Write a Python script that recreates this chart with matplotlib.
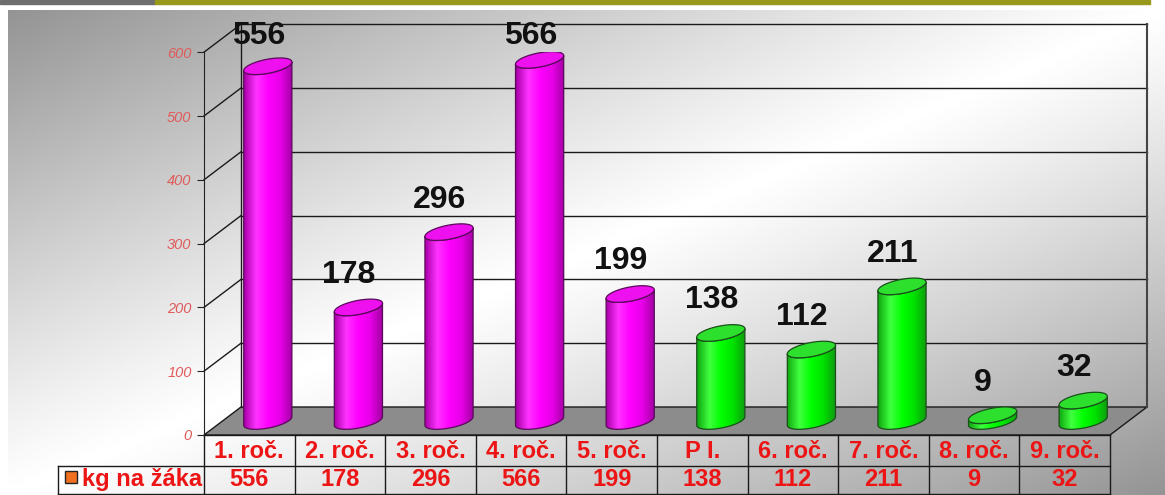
import numpy as np
import matplotlib.pyplot as plt
from matplotlib.colors import LinearSegmentedColormap
from matplotlib.patches import Polygon, Rectangle

categories = ['1. roč.', '2. roč.', '3. roč.', '4. roč.', '5. roč.',
              'P I.', '6. roč.', '7. roč.', '8. roč.', '9. roč.']
values = [556, 178, 296, 566, 199, 138, 112, 211, 9, 32]
groups = ['m', 'm', 'm', 'm', 'm', 'g', 'g', 'g', 'g', 'g']
series_name = 'kg na žáka'
yticks = [0, 100, 200, 300, 400, 500, 600]

plt.rcParams['font.family'] = ['Liberation Sans', 'DejaVu Sans']

W, H = 1165, 495
fig = plt.figure(figsize=(W / 100, H / 100), dpi=100)

# background with diagonal gradient
bg = fig.add_axes([0, 0, 1, 1])
bg.set_xlim(0, W)
bg.set_ylim(H, 0)
bg.axis('off')
xx, yy = np.meshgrid(np.linspace(0, 1, 400), np.linspace(0, 1, 200))
u = xx + yy
shade = 1 - 0.42 * np.abs(u - 1) ** 1.1
bg.imshow(shade, cmap='gray', vmin=0, vmax=1, extent=[8, W, H, 10], aspect='auto')
bg.add_patch(Rectangle((0, 0), 155, 4, color='#6e6e6e'))
bg.add_patch(Rectangle((155, 0), 995, 4, color='#98981a'))

# main axes = front plane of the 3d box
px_x = 90.6    # pixels per category
px_y = 0.638   # pixels per value unit
L, B = 204, 435
ax = fig.add_axes([L / W, (H - B) / H, 10 * px_x / W, 600 * px_y / H])
ax.set_xlim(-0.5, 9.5)
ax.set_ylim(0, 600)
ax.patch.set_alpha(0)
for s in ['top', 'right', 'bottom']:
    ax.spines[s].set_visible(False)
ax.spines['left'].set_color('#222222')
ax.set_xticks([])
ax.set_yticks(yticks)
ax.tick_params(axis='y', length=5, color='#222222', labelcolor='#e05a5a',
               labelsize=10.5, pad=4)
for t in ax.get_yticklabels():
    t.set_fontstyle('italic')

ddx = 37 / px_x
ddy = 28 / px_y
x0, x1 = -0.5, 9.5
lc = '#1a1a1a'

# floor
ax.add_patch(Polygon([(x0, 0), (x1, 0), (x1 + ddx, ddy), (x0 + ddx, ddy)],
                     closed=True, facecolor='#8c8c8c', edgecolor=lc, lw=1,
                     clip_on=False, zorder=1))
# gridlines: side wall and back wall
for v in yticks[1:]:
    ax.plot([x0, x0 + ddx], [v, v + ddy], color=lc, lw=1, clip_on=False, zorder=1)
    ax.plot([x0 + ddx, x1 + ddx], [v + ddy, v + ddy], color=lc, lw=1,
            clip_on=False, zorder=1)
ax.plot([x0 + ddx, x0 + ddx], [ddy, 600 + ddy], color=lc, lw=1, clip_on=False, zorder=1)
ax.plot([x1 + ddx, x1 + ddx], [ddy, 600 + ddy], color='#444444', lw=1.5,
        clip_on=False, zorder=1)

# cylinders
a, b, th = 24.5, 7.0, np.radians(11)
t0 = np.arctan2(-b * np.sin(th), a * np.cos(th))


def ell(cx, cy, t):
    ex = a * np.cos(t) * np.cos(th) - b * np.sin(t) * np.sin(th)
    ey = a * np.cos(t) * np.sin(th) + b * np.sin(t) * np.cos(th)
    return cx + ex / px_x, cy + ey / px_y


cmaps = {
    'm': LinearSegmentedColormap.from_list('m', ['#a800a8', '#ff33ff', '#ff00ff',
                                                  '#e600e6', '#a000a0']),
    'g': LinearSegmentedColormap.from_list('g', ['#10a810', '#40ff40', '#00ff00',
                                                  '#00e000', '#109a10']),
}
tops = {'m': '#ee10ee', 'g': '#2ee02e'}
edges = {'m': '#5a0a5a', 'g': '#1a501a'}

grad = np.linspace(0, 1, 100).reshape(1, -1)
for i, (v, g) in enumerate(zip(values, groups)):
    cx = i + ddx / 2
    yb = ddy / 2
    yt = v + ddy / 2
    tf = np.linspace(t0, t0 - np.pi, 60)
    bx, by = ell(cx, yb, tf)
    tx, ty = ell(cx, yt, tf[::-1])
    body = Polygon(np.column_stack([np.r_[bx, tx], np.r_[by, ty]]), closed=True,
                   facecolor='none', edgecolor=edges[g], lw=0.9, zorder=3)
    ax.add_patch(body)
    xr = (ell(cx, 0, t0)[0] - cx)
    im = ax.imshow(grad, cmap=cmaps[g], aspect='auto',
                   extent=[cx - xr, cx + xr, yb - 20, yt + 20], zorder=2)
    im.set_clip_path(body)
    tt = np.linspace(0, 2 * np.pi, 100)
    ex, ey = ell(cx, yt, tt)
    ax.add_patch(Polygon(np.column_stack([ex, ey]), closed=True,
                         facecolor=tops[g], edgecolor=edges[g], lw=0.9, zorder=4))
    ax.text(i + 0.1, min(v + 73, 625), str(v), ha='center', va='center',
            fontsize=23, fontweight='bold', color='#111111', zorder=5)

ax.set_xlim(-0.5, 9.5)
ax.set_ylim(0, 600)

# data table
red = '#ec1414'
r1, r2, r3 = 0, -48.6, -93
xl = x0 - 146 / px_x
ax.plot([x0, x1], [r1, r1], color=lc, lw=1, clip_on=False)
ax.plot([xl, x1], [r2, r2], color=lc, lw=1, clip_on=False)
ax.plot([xl, x1], [r3, r3], color=lc, lw=1, clip_on=False)
ax.plot([xl, xl], [r2, r3], color=lc, lw=1, clip_on=False)
for k in range(11):
    ax.plot([x0 + k, x0 + k], [r1, r3], color=lc, lw=1, clip_on=False)
for i, (c, v) in enumerate(zip(categories, values)):
    ax.text(i, -26, c, ha='center', va='center', color=red, fontsize=17,
            fontweight='bold')
    ax.text(i, -70, str(v), ha='center', va='center', color=red, fontsize=17,
            fontweight='bold')
ax.add_patch(Rectangle((xl + 7 / px_x, -75.5), 12 / px_x, 12 / px_y,
                       facecolor='#f07020', edgecolor='#222222', lw=1, clip_on=False))
ax.text(xl + 24 / px_x, -70, series_name, ha='left', va='center', color=red,
        fontsize=17, fontweight='bold')

fig.savefig('out.png', dpi=100)
